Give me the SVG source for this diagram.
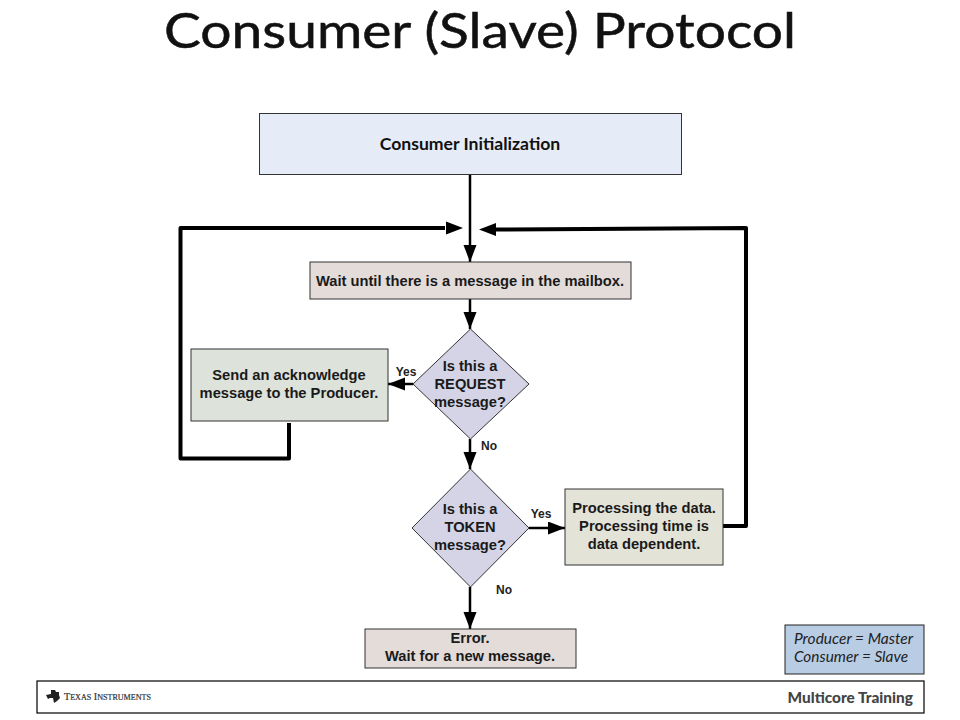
<svg xmlns="http://www.w3.org/2000/svg" width="960" height="720" viewBox="0 0 960 720">
<style>
.a{font-family:"Liberation Sans",Arial,sans-serif;font-weight:bold;font-size:14.700px;fill:#1a1a1a;text-anchor:middle}
.l{font-family:"Liberation Sans",Arial,sans-serif;font-size:12px;font-weight:bold;fill:#222;text-anchor:middle}
.c{font-family:Lato,"Open Sans",sans-serif}
.box{stroke:#333;stroke-width:1}
.w{fill:none;stroke:#000;stroke-width:2.5}
.t{fill:none;stroke:#000;stroke-width:4;stroke-linejoin:round}
.h{fill:#000}
</style>
<defs>
<marker id="ah" markerUnits="userSpaceOnUse" markerWidth="18" markerHeight="14" refX="17" refY="6.500" orient="auto"><path d="M0 0L17 6.500L0 13Z" class="h"/></marker>
</defs>
<rect width="960" height="720" fill="#fff"/>
<text id="title" class="c" x="480" y="48" font-size="48" fill="#111" stroke="#111" stroke-width=".5" text-anchor="middle" textLength="632" lengthAdjust="spacingAndGlyphs">Consumer (Slave) Protocol</text>
<g id="connectors">
<path class="w" d="M470 175V262" marker-end="url(#ah)"/>
<path class="w" d="M470 299V329" marker-end="url(#ah)"/>
<path class="w" d="M413 384H388" marker-end="url(#ah)"/>
<path class="w" d="M470 439V469" marker-end="url(#ah)"/>
<path class="w" d="M529 528H565" marker-end="url(#ah)"/>
<path class="w" d="M470 587V629" marker-end="url(#ah)"/>
<path class="t" d="M289 423V458.500H180.500V228H445"/>
<path class="h" d="M463 228L446 221.500V234.500Z"/>
<path class="t" d="M723 526H746V228L495 229.500"/>
<path class="h" d="M479 229.500L496 223V236Z"/>
</g>
<g id="n-init"><rect class="box" x="259.500" y="113.500" width="422" height="61" fill="#e6ecf7"/><text class="c" x="470" y="149.500" font-size="17.600" font-weight="700" fill="#111" text-anchor="middle">Consumer Initialization</text></g>
<g id="n-wait"><rect class="box" x="310" y="262" width="321" height="37" fill="#e3dcd9"/><text class="a" x="470" y="286">Wait until there is a message in the mailbox.</text></g>
<g id="n-request"><path class="box" d="M470.500 329L529 384L470.500 439L413 384Z" fill="#d4d4e6" stroke-width=".8"/><text class="a" x="470" y="371">Is this a</text><text class="a" x="470" y="389">REQUEST</text><text class="a" x="470" y="407">message?</text></g>
<g id="n-ack"><rect class="box" x="191" y="349" width="197" height="72" fill="#dde2da"/><text class="a" x="289" y="380">Send an acknowledge</text><text class="a" x="289" y="398">message to the Producer.</text></g>
<g id="n-token"><path class="box" d="M470.500 469L529 528L470.500 587L412 528Z" fill="#d4d4e6" stroke-width=".8"/><text class="a" x="470" y="514">Is this a</text><text class="a" x="470" y="532">TOKEN</text><text class="a" x="470" y="550">message?</text></g>
<g id="n-proc"><rect class="box" x="565" y="489" width="158" height="76" fill="#e3e3d8"/><text class="a" x="644" y="513">Processing the data.</text><text class="a" x="644" y="531">Processing time is</text><text class="a" x="644" y="549">data dependent.</text></g>
<g id="n-error"><rect class="box" x="365" y="629" width="211" height="39" fill="#e3dcd9"/><text class="a" x="470" y="643">Error.</text><text class="a" x="470" y="661">Wait for a new message.</text></g>
<g id="labels">
<text class="l" x="406" y="376">Yes</text>
<text class="l" x="489" y="450">No</text>
<text class="l" x="541" y="518">Yes</text>
<text class="l" x="504" y="594">No</text>
</g>
<g id="n-legend"><rect x="785" y="625" width="139" height="49" fill="#b8cce4" stroke="#222"/><text class="c" x="794" y="644" font-size="14.500" font-style="italic" fill="#222" textLength="119" lengthAdjust="spacingAndGlyphs">Producer = Master</text><text class="c" x="794" y="662" font-size="14.500" font-style="italic" fill="#222" textLength="114" lengthAdjust="spacingAndGlyphs">Consumer = Slave</text></g>
<g id="footer"><rect x="37" y="681" width="887" height="32" fill="#fff" stroke="#000" stroke-width="1.200"/>
<path d="M46 695L51 694V690H55L56 692H59V695L60 698L57 701L54 703L53 698H50L48 699Z" fill="#222"/>
<text x="64" y="700" font-family="Liberation Serif,serif" font-size="10" fill="#333" stroke="#333" stroke-width=".2" textLength="87" lengthAdjust="spacingAndGlyphs">T<tspan font-size="8">EXAS</tspan> I<tspan font-size="8">NSTRUMENTS</tspan></text>
<text class="c" x="913" y="703" font-size="15.400" font-weight="900" fill="#444" text-anchor="end">Multicore Training</text></g>
</svg>
